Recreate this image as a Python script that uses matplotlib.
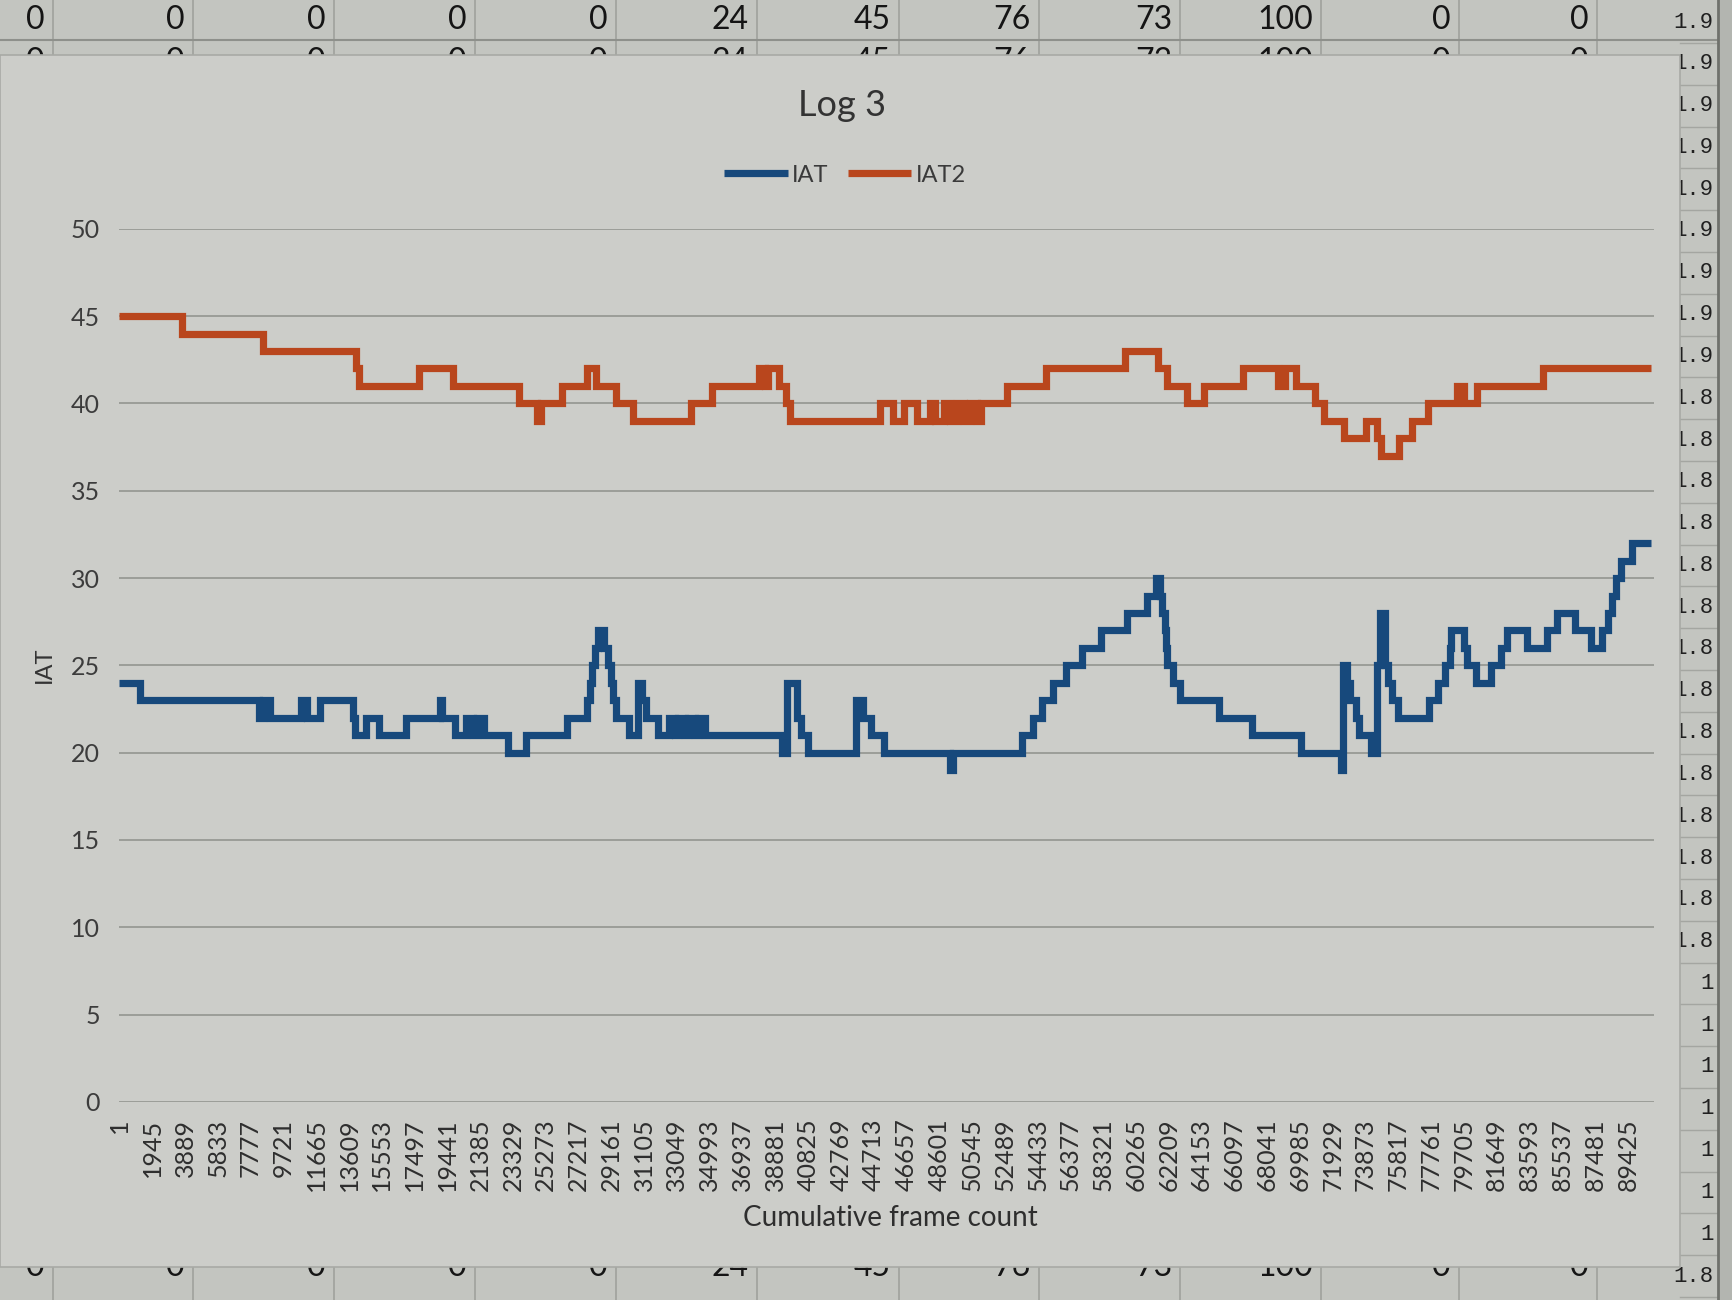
import matplotlib
matplotlib.use("Agg")
import matplotlib.pyplot as plt
from matplotlib.patches import Rectangle
from matplotlib.lines import Line2D

plt.rcParams['font.family'] = ['Lato', 'DejaVu Sans']

# ---------------- data ----------------
N_FRAMES = 91000

iat_frames = [1, 1231, 8253, 8515, 8908, 10742, 11135, 11921, 13821, 13952,
              14607, 15393, 16965, 18995, 19126, 19912, 20567, 20960, 21222, 21615,
              23056, 24104, 26528, 27707, 27903, 28034, 28165, 28362, 28755, 28951,
              29148, 29279, 29410, 30196, 30720, 30982, 31244, 31899, 32554, 32947,
              33143, 33536, 33733, 34126, 34322, 34715, 39300, 39562, 40152, 40414,
              40807, 43689, 44082, 44540, 45326, 49256, 49387, 53514, 54169, 54693,
              55348, 56134, 57051, 58164, 59736, 60915, 61439, 61701, 61832, 61963,
              62029, 62094, 62487, 62880, 65173, 67138, 70020, 72443, 72509, 72771,
              72967, 73295, 73491, 74212, 74539, 74736, 74998, 75194, 75456, 75784,
              77618, 78142, 78600, 78862, 78928, 79714, 79910, 80434, 81286, 81875,
              82268, 83447, 84626, 85216, 86264, 87247, 87902, 88230, 88492, 88689,
              89017, 89672, 90800]
iat_values = [24, 23, 22, 23, 22, 23, 22, 23, 22, 21,
              22, 21, 22, 23, 22, 21, 22, 21, 22, 21,
              20, 21, 22, 23, 24, 25, 26, 27, 26, 25,
              24, 23, 22, 21, 24, 23, 22, 21, 22, 21,
              22, 21, 22, 21, 22, 21, 20, 24, 22, 21,
              20, 23, 22, 21, 20, 19, 20, 21, 22, 23,
              24, 25, 26, 27, 28, 29, 30, 29, 28, 27,
              26, 25, 24, 23, 22, 21, 20, 19, 25, 24,
              23, 22, 21, 20, 25, 28, 25, 24, 23, 22,
              23, 24, 25, 26, 27, 26, 25, 24, 25, 26,
              27, 26, 27, 28, 27, 26, 27, 28, 29, 30,
              31, 32, 32]

iat2_frames = [1, 3734, 8515, 14017, 14214, 17751, 19755, 23711, 24759, 25021,
               26233, 27707, 28231, 29410, 30458, 33910, 35108, 37925, 38252, 38449,
               39104, 39497, 39759, 45064, 45850, 46505, 47291, 48077, 48339, 48863,
               49256, 49649, 50042, 50435, 50828, 51090, 52597, 54955, 59605, 61570,
               62094, 63273, 64321, 66614, 68710, 69103, 69758, 70871, 71395, 72574,
               73884, 74539, 74801, 75849, 76635, 77552, 79321, 79714, 80500, 84364,
               90800]
iat2_values = [45, 44, 43, 42, 41, 42, 41, 40, 39, 40,
               41, 42, 41, 40, 39, 40, 41, 42, 41, 42,
               41, 40, 39, 40, 39, 40, 39, 40, 39, 40,
               39, 40, 39, 40, 39, 40, 41, 42, 43, 42,
               41, 40, 41, 42, 41, 42, 41, 40, 39, 38,
               39, 38, 37, 38, 39, 40, 41, 40, 41, 42,
               42]

x_tick_labels = ["1", "1945", "3889", "5833", "7777", "9721", "11665", "13609",
                 "15553", "17497", "19441", "21385", "23329", "25273", "27217",
                 "29161", "31105", "33049", "34993", "36937", "38881", "40825",
                 "42769", "44713", "46657", "48601", "50545", "52489", "54433",
                 "56377", "58321", "60265", "62209", "64153", "66097", "68041",
                 "69985", "71929", "73873", "75817", "77761", "79705", "81649",
                 "83593", "85537", "87481", "89425"]
y_ticks = [0, 5, 10, 15, 20, 25, 30, 35, 40, 45, 50]

# spreadsheet cells visible around the chart
sheet_row = ["0", "0", "0", "0", "0", "24", "45", "76", "73", "100", "0", "0"]
right_col = (["1.9"] * 9) + (["1.8"] * 14) + (["1"] * 7) + ["1.8"]

# ---------------- figure ----------------
W, H = 1733, 1300
fig = plt.figure(figsize=(W / 100, H / 100), dpi=100)
fig.patch.set_facecolor('#c3c5c0')

def fx(px):
    return px / W

def fy(py):
    return 1 - py / H

# spreadsheet background details
col_borders = [53, 193, 334, 475, 616, 757, 899, 1039, 1180, 1321, 1459, 1597]
for xb in col_borders:
    fig.add_artist(Line2D([fx(xb), fx(xb)], [fy(0), fy(55)], color='#9fa19c', lw=1.2, zorder=-3))
    fig.add_artist(Line2D([fx(xb), fx(xb)], [fy(1265), fy(1300)], color='#9fa19c', lw=1.2, zorder=-3))
fig.add_artist(Line2D([0, fx(1718)], [fy(40), fy(40)], color='#8e908b', lw=1.5, zorder=-3))
for i, v in enumerate(sheet_row):
    xr = col_borders[i] - 8
    fig.text(fx(xr), fy(20), v, ha='right', va='center', fontsize=23, color='#151515', zorder=-3)
    fig.text(fx(xr), fy(47), v, ha='right', va='top', fontsize=23, color='#151515', zorder=-3)
    fig.text(fx(xr), fy(1252), v, ha='right', va='top', fontsize=23, color='#151515', zorder=-3)

# right column of cells
fig.add_artist(Rectangle((fx(1718), 0), fx(W) - fx(1718), 1, transform=fig.transFigure,
                         facecolor='#b3b5b0', edgecolor='none', zorder=-3))
fig.add_artist(Line2D([fx(1718), fx(1718)], [0, 1], color='#6f716c', lw=2, zorder=-2))
for k, v in enumerate(right_col):
    yk = 22 + 41.8 * k
    fig.text(fx(1714), fy(yk), v, ha='right', va='center', fontsize=16,
             family=['Liberation Mono', 'DejaVu Sans Mono'], color='#202020', zorder=-3)
    fig.add_artist(Line2D([fx(1680), fx(1718)], [fy(yk + 21), fy(yk + 21)],
                          color='#a4a6a1', lw=1, zorder=-3))

# chart area
fig.add_artist(Rectangle((0, fy(1267)), fx(1680), (1267 - 55) / H, transform=fig.transFigure,
                         facecolor='#cccdc9', edgecolor='#a8aaa5', lw=1.2, zorder=-1))

# plot area
ax = fig.add_axes([fx(119.4), fy(1101.9), fx(1654.5) - fx(119.4), (1101.9 - 228.8) / H])
ax.set_facecolor('none')
ax.set_xlim(0.5, N_FRAMES + 0.5)
ax.set_ylim(0, 50)

line_iat, = ax.step(iat_frames, iat_values, where='post', color='#17497c', lw=5.2,
                    solid_joinstyle='miter', solid_capstyle='butt', label='IAT', zorder=3)
line_iat2, = ax.step(iat2_frames, iat2_values, where='post', color='#b9461d', lw=5.2,
                     solid_joinstyle='miter', solid_capstyle='butt', label='IAT2', zorder=3)

ax.set_yticks(y_ticks)
ax.set_yticklabels([str(v) for v in y_ticks], fontsize=18, color='#3c3c3c')
ax.set_xticks([int(t) for t in x_tick_labels])
ax.set_xticklabels(x_tick_labels, rotation=90, fontsize=18, color='#2e2e2e', va='top', ha='center')
ax.tick_params(axis='both', length=0)
ax.tick_params(axis='y', pad=14)
ax.tick_params(axis='x', pad=12)
ax.grid(axis='y', color='#979994', lw=1.3)
ax.grid(axis='x', visible=False)
ax.set_axisbelow(True)
for s in ax.spines.values():
    s.set_visible(False)

fig.text(fx(842), fy(105), 'Log 3', ha='center', va='center', fontsize=26, color='#333333')
fig.text(fx(44), fy(665), 'IAT', ha='center', va='center', rotation=90, fontsize=17, color='#333333')
fig.text(fx(890), fy(1218), 'Cumulative frame count', ha='center', va='center', fontsize=20,
         color='#2e2e2e')

leg = ax.legend(handles=[line_iat, line_iat2], loc='center', ncol=2, frameon=False,
                bbox_to_anchor=(fx(845), fy(175)), bbox_transform=fig.transFigure,
                fontsize=17, handlelength=2.7, handletextpad=0.2, columnspacing=0.8,
                borderpad=0)
for t in leg.get_texts():
    t.set_color('#3a3a3a')

fig.savefig('out.png', dpi=100, facecolor=fig.get_facecolor())
